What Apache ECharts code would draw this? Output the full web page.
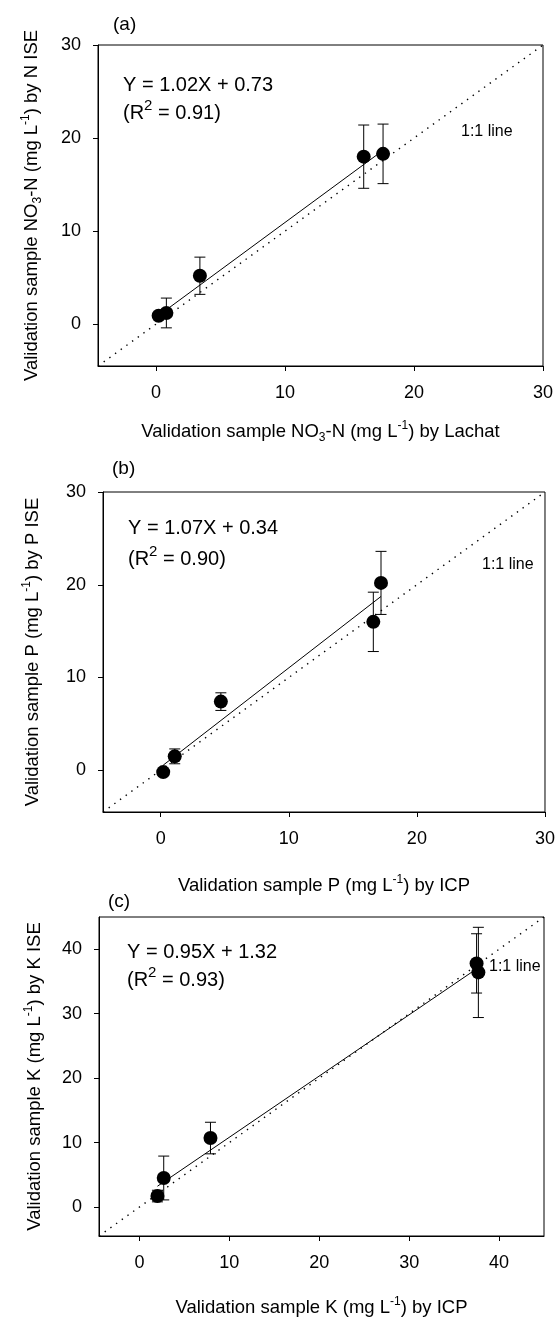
<!DOCTYPE html>
<html>
<head>
<meta charset="utf-8">
<script src="https://cdn.jsdelivr.net/npm/echarts@6/dist/echarts.min.js"></script>
<style>
  html, body { margin: 0; padding: 0; background: #fff; }
  #chart { width: 558px; height: 1321px; }
</style>
</head>
<body>
<div id="chart"></div>
<script>
// (a) nitrate
var xA = [0.2, 0.8, 3.4, 16.1, 17.6];
var yA = [0.9, 1.2, 5.2, 18.0, 18.3];
var errA = [0.3, 1.6, 2.0, 3.4, 3.2];
var fitA = [[0.2, 0.93], [17.6, 18.68]];
var oneA = [[-4.5, -4.5], [30, 30]];
var ticksA = [0, 10, 20, 30];

// (b) phosphorus
var xB = [0.2, 1.1, 4.7, 16.6, 17.2];
var yB = [-0.2, 1.5, 7.4, 16.0, 20.2];
var errB = [0.3, 0.8, 0.95, 3.2, 3.4];
var fitB = [[0.2, 0.55], [17.2, 18.74]];
var oneB = [[-4.5, -4.5], [30, 30]];
var ticksB = [0, 10, 20, 30];

// (c) potassium
var xC = [2.0, 2.7, 7.9, 37.5, 37.7];
var yC = [1.7, 4.5, 10.7, 37.8, 36.4];
var errC = [0.9, 3.4, 2.45, 4.6, 7.0];
var fitC = [[2.0, 3.22], [37.7, 37.14]];
var oneC = [[-4.5, -4.5], [45, 45]];
var ticksC = [0, 10, 20, 30, 40];

var FONT = '"Liberation Sans", Arial, Helvetica, sans-serif';

// axis titles with sub/superscripts
var rich = {
    base: { fontSize: 18.5, fontFamily: FONT, color: '#000', lineHeight: 24 },
    sub: { fontSize: 12, fontFamily: FONT, color: '#000', lineHeight: 12, verticalAlign: 'bottom' },
    sup: { fontSize: 12, fontFamily: FONT, color: '#000', lineHeight: 12, verticalAlign: 'top' }
};
// R^2 lines
var eqRich = {
    base: { fontSize: 20, fontFamily: FONT, fill: '#000', lineHeight: 30 },
    sup: { fontSize: 15, fontFamily: FONT, fill: '#000', lineHeight: 14, verticalAlign: 'top' }
};

function zip(xs, ys) {
    return xs.map(function (x, i) { return [x, ys[i]]; });
}
function zip3(xs, ys, es) {
    return xs.map(function (x, i) { return [x, ys[i], es[i]]; });
}

function errorBars(params, api) {
    var x = api.value(0), y = api.value(1), e = api.value(2);
    var top = api.coord([x, y + e]);
    var bot = api.coord([x, y - e]);
    var cap = 5.5;
    var st = { stroke: '#000', lineWidth: 1 };
    return {
        type: 'group',
        children: [
            { type: 'line', shape: { x1: top[0], y1: top[1], x2: bot[0], y2: bot[1] }, style: st },
            { type: 'line', shape: { x1: top[0] - cap, y1: top[1], x2: top[0] + cap, y2: top[1] }, style: st },
            { type: 'line', shape: { x1: bot[0] - cap, y1: bot[1], x2: bot[0] + cap, y2: bot[1] }, style: st }
        ]
    };
}

function xAxisFor(idx, max, ticks, name, gap) {
    return {
        type: 'value', gridIndex: idx, min: -4.5, max: max,
        splitLine: { show: false },
        axisLine: { show: true, onZero: false, lineStyle: { color: '#000', width: 1 } },
        axisTick: { show: true, length: 5, customValues: ticks, lineStyle: { color: '#000' } },
        axisLabel: { customValues: ticks, color: '#000', fontSize: 18, fontFamily: FONT, margin: 18 },
        name: name, nameLocation: 'middle', nameGap: gap,
        nameTextStyle: { rich: rich }
    };
}
function yAxisFor(idx, max, ticks, name, gap) {
    return {
        type: 'value', gridIndex: idx, min: -4.5, max: max,
        splitLine: { show: false },
        axisLine: { show: true, onZero: false, lineStyle: { color: '#000', width: 1 } },
        axisTick: { show: true, length: 5, customValues: ticks, lineStyle: { color: '#000' } },
        axisLabel: { customValues: ticks, color: '#000', fontSize: 18, fontFamily: FONT, margin: 17 },
        name: name, nameLocation: 'middle', nameGap: gap,
        nameTextStyle: { rich: rich }
    };
}

function panelSeries(idx, xs, ys, es, fit, one) {
    return [
        {
            type: 'line', xAxisIndex: idx, yAxisIndex: idx, data: one,
            symbol: 'none', z: 1,
            lineStyle: { color: '#000', width: 1.4, type: [1.4, 5.6] }
        },
        {
            type: 'line', xAxisIndex: idx, yAxisIndex: idx, data: fit,
            symbol: 'none', z: 2,
            lineStyle: { color: '#000', width: 1 }
        },
        {
            type: 'custom', xAxisIndex: idx, yAxisIndex: idx,
            data: zip3(xs, ys, es), renderItem: errorBars, z: 3
        },
        {
            type: 'scatter', xAxisIndex: idx, yAxisIndex: idx,
            data: zip(xs, ys), symbolSize: 14, z: 4,
            itemStyle: { color: '#000', opacity: 1 }
        }
    ];
}

function txt(x, y, text, size, richStyle) {
    return {
        type: 'text', x: x, y: y,
        style: {
            text: text, fill: '#000', fontSize: size, fontFamily: FONT,
            verticalAlign: 'middle', rich: richStyle
        }
    };
}

var myChart = echarts.init(document.getElementById('chart'));
myChart.setOption({
    animation: false,
    backgroundColor: '#fff',
    textStyle: { fontFamily: FONT, color: '#000' },
    grid: [
        { left: 98, top: 45, width: 445, height: 321, show: true, borderColor: '#000', borderWidth: 1 },
        { left: 103, top: 492, width: 444, height: 320, show: true, borderColor: '#000', borderWidth: 1 },
        { left: 99, top: 917, width: 445, height: 319, show: true, borderColor: '#000', borderWidth: 1 }
    ],
    xAxis: [
        xAxisFor(0, 30, ticksA, '{base|Validation sample NO}{sub|3}{base|-N (mg L}{sup|-1}{base|) by Lachat}', 54),
        xAxisFor(1, 30, ticksB, '{base|Validation sample P (mg L}{sup|-1}{base|) by ICP}', 62),
        xAxisFor(2, 45, ticksC, '{base|Validation sample K (mg L}{sup|-1}{base|) by ICP}', 60)
    ],
    yAxis: [
        yAxisFor(0, 30, ticksA, '{base|Validation sample NO}{sub|3}{base|-N (mg L}{sup|-1}{base|) by N ISE}', 54),
        yAxisFor(1, 30, ticksB, '{base|Validation sample P (mg L}{sup|-1}{base|) by P ISE}', 58),
        yAxisFor(2, 45, ticksC, '{base|Validation sample K (mg L}{sup|-1}{base|) by K ISE}', 52)
    ],
    series: []
        .concat(panelSeries(0, xA, yA, errA, fitA, oneA))
        .concat(panelSeries(1, xB, yB, errB, fitB, oneB))
        .concat(panelSeries(2, xC, yC, errC, fitC, oneC)),
    graphic: [
        txt(113, 25, '(a)', 19),
        txt(123, 85, 'Y = 1.02X + 0.73', 20),
        txt(123, 113, '{base|(R}{sup|2}{base| = 0.91)}', 20, eqRich),
        txt(461, 132, '1:1 line', 16),

        txt(112, 469, '(b)', 19),
        txt(128, 528, 'Y = 1.07X + 0.34', 20),
        txt(128, 559, '{base|(R}{sup|2}{base| = 0.90)}', 20, eqRich),
        txt(482, 565, '1:1 line', 16),

        txt(108, 902, '(c)', 19),
        txt(127, 952, 'Y = 0.95X + 1.32', 20),
        txt(127, 980, '{base|(R}{sup|2}{base| = 0.93)}', 20, eqRich),
        txt(489, 967, '1:1 line', 16)
    ]
});
</script>
</body>
</html>
